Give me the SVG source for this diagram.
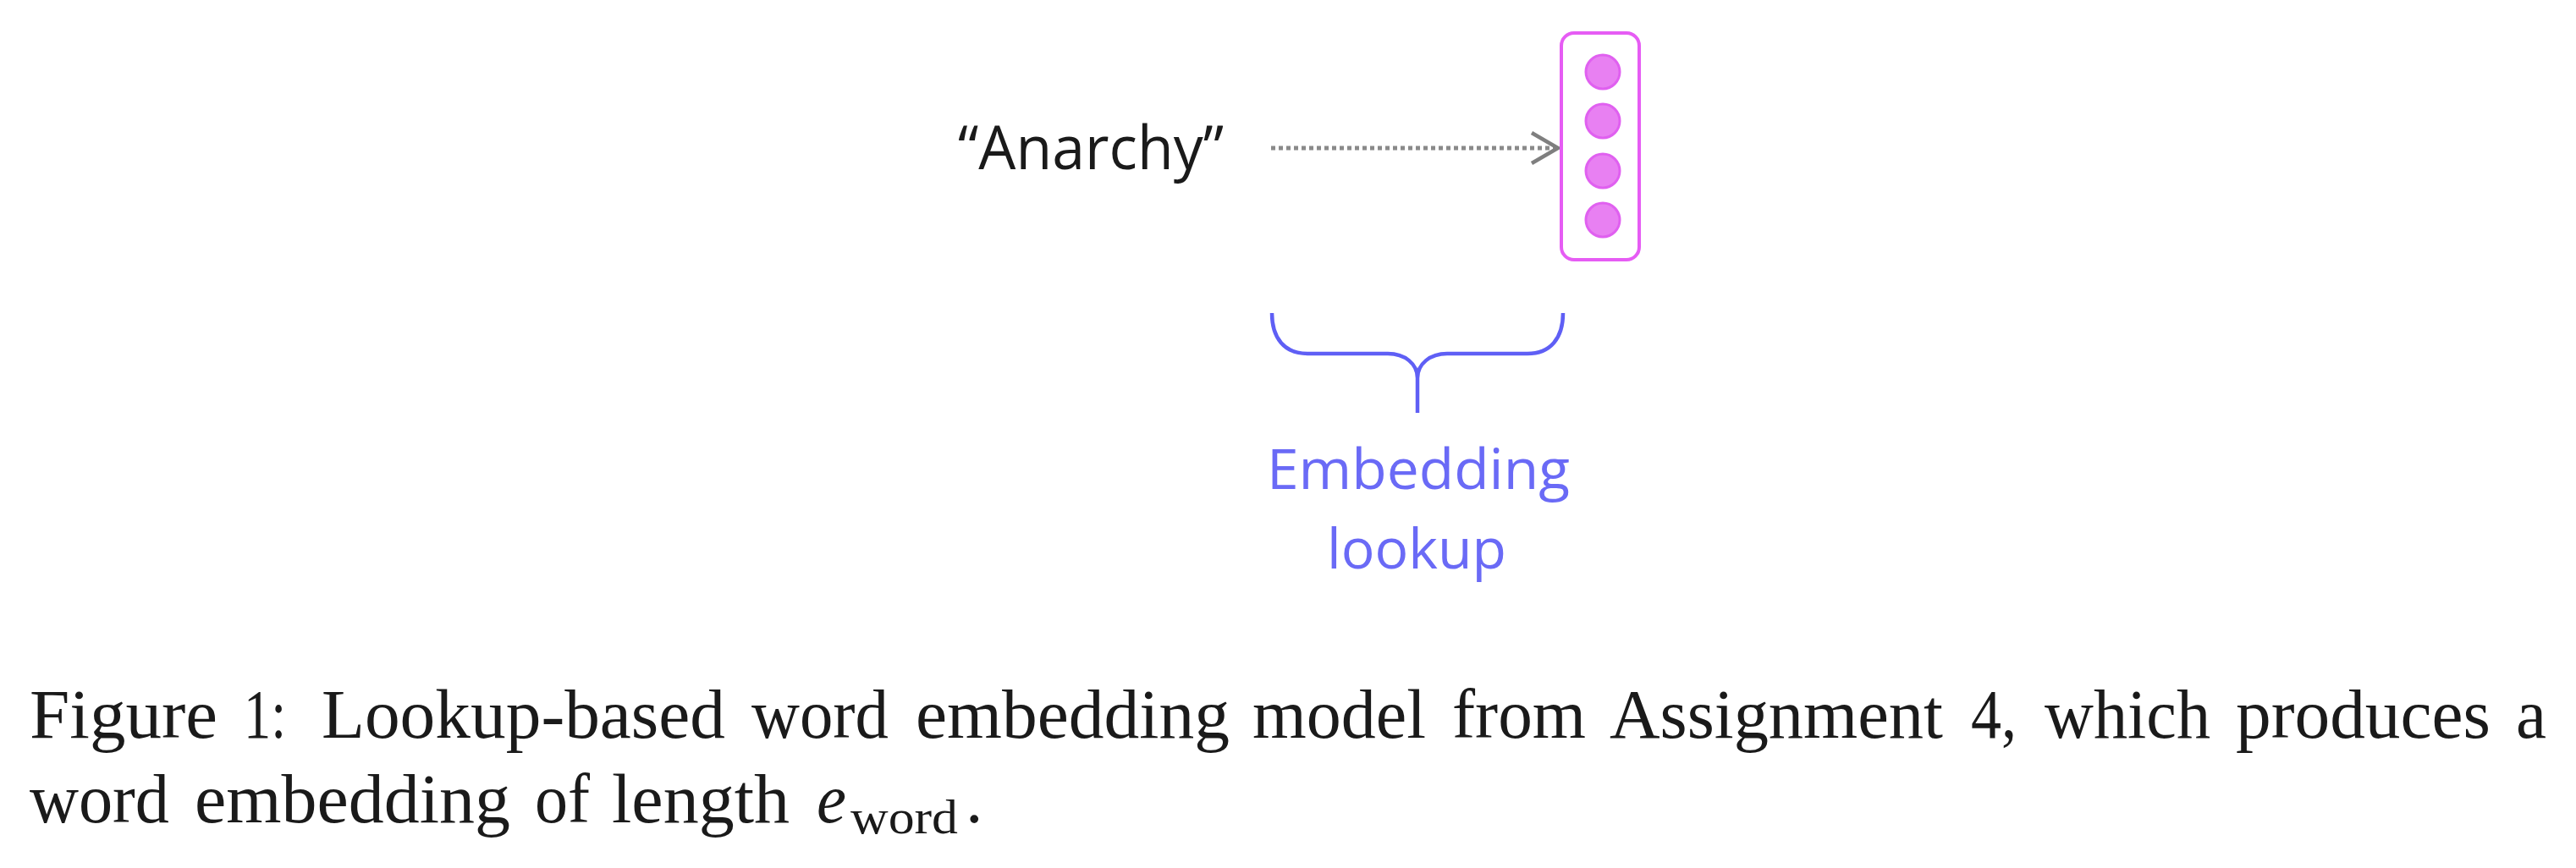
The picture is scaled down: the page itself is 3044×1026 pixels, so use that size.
<svg xmlns="http://www.w3.org/2000/svg" width="3044" height="1026" viewBox="0 0 3044 1026">
<style>
.sans{font-family:"Open Sans","Liberation Sans",sans-serif}
.word{font-size:72px;fill:#1a1a1a}
.lbl{font-size:66px;fill:#6a6af6;text-anchor:middle}
.cap{font-family:"Liberation Serif","DejaVu Serif",serif;font-size:82px;fill:#1a1a1a}
.dot{fill:#e880f2;stroke:#e060f0;stroke-width:3}
</style>
<defs>
<marker id="chev" markerUnits="userSpaceOnUse" markerWidth="40" markerHeight="44" refX="33" refY="20" orient="auto" overflow="visible">
<path d="M2,2 L33,20 L2,38" fill="none" stroke="#7f7f7f" stroke-width="4.5"/>
</marker>
</defs>
<rect width="3044" height="1026" fill="#ffffff"/>
<g id="connectors">
<path d="M1502,175 L1841,175" stroke="#8a8a8a" stroke-width="5" stroke-dasharray="5 4" fill="none" marker-end="url(#chev)"/>
</g>
<g id="node-word">
<text class="sans word" x="1132" y="200" textLength="314" lengthAdjust="spacingAndGlyphs">“Anarchy”</text>
</g>
<g id="node-vector">
<rect x="1845" y="39" width="92" height="268" rx="15" ry="15" fill="#ffffff" stroke="#e65cf4" stroke-width="4"/>
<circle class="dot" cx="1894" cy="85" r="20"/>
<circle class="dot" cx="1894" cy="143" r="20"/>
<circle class="dot" cx="1894" cy="202" r="20"/>
<circle class="dot" cx="1894" cy="260" r="20"/>
</g>
<g id="node-embedding-lookup">
<path d="M1503,370 C1503,400 1518,418 1545,418 L1640,418 C1660,418 1675,430 1675,447 L1675,488 M1675,447 C1675,430 1690,418 1710,418 L1805,418 C1832,418 1847,400 1847,370" fill="none" stroke="#5f5ff5" stroke-width="4.5"/>
<text class="sans lbl" x="1676" y="578" textLength="358" lengthAdjust="spacingAndGlyphs">Embedding</text>
<text class="sans lbl" x="1674" y="672" textLength="212" lengthAdjust="spacingAndGlyphs">lookup</text>
</g>
<g id="caption" class="cap">
<text x="35" y="872" textLength="222" lengthAdjust="spacingAndGlyphs">Figure</text>
<text x="288" y="872" textLength="50" lengthAdjust="spacingAndGlyphs">1:</text>
<text x="380" y="872" textLength="477" lengthAdjust="spacingAndGlyphs">Lookup-based</text>
<text x="888" y="872" textLength="162" lengthAdjust="spacingAndGlyphs">word</text>
<text x="1082" y="872" textLength="371" lengthAdjust="spacingAndGlyphs">embedding</text>
<text x="1480" y="872" textLength="205" lengthAdjust="spacingAndGlyphs">model</text>
<text x="1716" y="872" textLength="158" lengthAdjust="spacingAndGlyphs">from</text>
<text x="1902" y="872" textLength="394" lengthAdjust="spacingAndGlyphs">Assignment</text>
<text x="2329" y="872" textLength="54" lengthAdjust="spacingAndGlyphs">4,</text>
<text x="2416" y="872" textLength="196" lengthAdjust="spacingAndGlyphs">which</text>
<text x="2642" y="872" textLength="301" lengthAdjust="spacingAndGlyphs">produces</text>
<text x="2973" y="872" textLength="36" lengthAdjust="spacingAndGlyphs">a</text>
<text x="35" y="972" textLength="165" lengthAdjust="spacingAndGlyphs">word</text>
<text x="230" y="972" textLength="373" lengthAdjust="spacingAndGlyphs">embedding</text>
<text x="632" y="972" textLength="65" lengthAdjust="spacingAndGlyphs">of</text>
<text x="723" y="972" textLength="210" lengthAdjust="spacingAndGlyphs">length</text>
<text x="965" y="972" font-style="italic" textLength="35" lengthAdjust="spacingAndGlyphs">e</text>
<text x="1005" y="985" font-size="56" textLength="127" lengthAdjust="spacingAndGlyphs">word</text>
<text x="1141" y="972">.</text>
</g>
</svg>
